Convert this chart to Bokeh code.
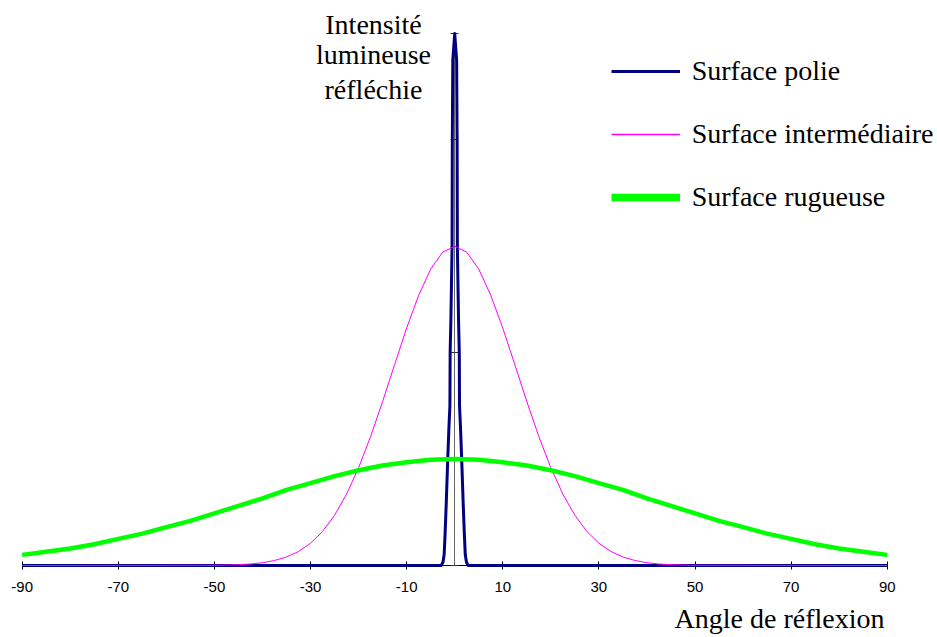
import numpy as np
from bokeh.plotting import figure
from bokeh.models import (Range1d, LinearAxis, FixedTicker, Legend, LegendItem, Label)
from bokeh.core.properties import value
from bokeh.embed import file_html
from bokeh.resources import INLINE

# ---------------- data ----------------
angles_polie = [-90, -2.8, -2.45, -2.2, -2.0, -1.75, -1.45, -1.2, -1.0, -0.95, -0.8, -0.55, -0.5, -0.4, 0,
                0.4, 0.5, 0.55, 0.8, 0.95, 1.0, 1.2, 1.45, 1.75, 2.0, 2.2, 2.45, 2.8, 90]
intens_polie = [0, 0, 0.03, 0.1, 0.3, 0.6, 1.0, 1.3, 1.5, 2.0, 2.3, 3.0, 4.0, 4.75, 5.0,
                4.75, 4.0, 3.0, 2.3, 2.0, 1.5, 1.3, 1.0, 0.6, 0.3, 0.1, 0.03, 0, 0]

angles_inter = [-90, -50, -47.5, -45, -42.5, -40, -37.5, -35, -32.5, -30, -27.5, -25, -22.5, -20,
                -17.5, -15, -12.5, -10, -7.5, -5, -2.5, 0, 2.5, 5, 7.5, 10, 12.5, 15, 17.5, 20,
                22.5, 25, 27.5, 30, 32.5, 35, 37.5, 40, 42.5, 45, 47.5, 50, 90]
intens_inter = [0, 0.002, 0.004, 0.008, 0.014, 0.026, 0.047, 0.08, 0.132, 0.209, 0.32, 0.472, 0.671, 0.919,
                1.212, 1.542, 1.889, 2.232, 2.54, 2.786, 2.945, 3.0, 2.945, 2.786, 2.54, 2.232, 1.889, 1.542,
                1.212, 0.919, 0.671, 0.472, 0.32, 0.209, 0.132, 0.08, 0.047, 0.026, 0.014, 0.008, 0.004,
                0.002, 0]

angles_rug = [-90, -85, -80, -75, -70, -65, -60, -55, -50, -45, -40, -35, -30, -25, -20, -15, -10, -5, 0,
              5, 10, 15, 20, 25, 30, 35, 40, 45, 50, 55, 60, 65, 70, 75, 80, 85, 90]
intens_rug = [0.10, 0.13, 0.16, 0.20, 0.25, 0.30, 0.36, 0.42, 0.49, 0.56, 0.63, 0.71, 0.775, 0.84, 0.895,
              0.94, 0.97, 0.993, 1.0, 0.993, 0.97, 0.94, 0.895, 0.84, 0.775, 0.71, 0.63, 0.56, 0.49, 0.42,
              0.36, 0.30, 0.25, 0.20, 0.16, 0.13, 0.10]

x_ticks = [-90, -70, -50, -30, -10, 10, 30, 50, 70, 90]
x_tick_labels = ["-90", "-70", "-50", "-30", "-10", "10", "30", "50", "70", "90"]
y_ticks = [0, 1, 2, 3, 4, 5]

series_names = ["Surface polie", "Surface intermédiaire", "Surface rugueuse"]
y_title_lines = ["Intensité", "lumineuse", "réfléchie"]
x_title = "Angle de réflexion"

# ---------------- figure ----------------
SERIF = "Liberation Serif"
SANS = "Liberation Sans"

p = figure(width=937, height=637,
           x_range=Range1d(-94.516, 100.46), y_range=Range1d(-0.6767, 5.3102),
           x_axis_type=None, y_axis_type=None,
           output_backend="svg", toolbar_location=None,
           min_border=0, outline_line_color=None)
p.background_fill_color = "white"
p.border_fill_color = "white"

# axes through the origin
xaxis = LinearAxis(fixed_location=0, ticker=FixedTicker(ticks=x_ticks), bounds=(-90, 90))
xaxis.major_label_overrides = {t: lab for t, lab in zip(x_ticks, x_tick_labels)}
xaxis.axis_line_color = "black"
xaxis.major_tick_line_color = "black"
xaxis.major_tick_in = 4
xaxis.major_tick_out = 4
xaxis.minor_tick_line_color = None
xaxis.major_label_standoff = 13
xaxis.major_label_text_font = SANS
xaxis.major_label_text_font_size = "15px"
xaxis.major_label_text_color = "black"
xaxis.level = "underlay"
p.add_layout(xaxis, "below")

yaxis = LinearAxis(fixed_location=0, ticker=FixedTicker(ticks=y_ticks), bounds=(0, 5))
yaxis.major_label_overrides = {t: "" for t in y_ticks}
yaxis.axis_line_color = "#666666"
yaxis.major_tick_line_color = "#333333"
yaxis.major_tick_in = 4
yaxis.major_tick_out = 4
yaxis.minor_tick_line_color = None
yaxis.major_label_text_font_size = "1px"
yaxis.level = "underlay"
p.add_layout(yaxis, "left")

# curves
r_polie = p.line(angles_polie, intens_polie, line_color="#000080", line_width=3, line_join="round")
r_inter = p.line(angles_inter, intens_inter, line_color="#FF00FF", line_width=1)
r_rug = p.line(angles_rug, intens_rug, line_color="#00FF00", line_width=4.5)

# legend samples (proxies with no visible points, drawn only in the legend)
nan1 = np.array([np.nan])
l_polie = p.line(nan1, nan1, line_color="#000080", line_width=3.2)
l_inter = p.line(nan1, nan1, line_color="#FF00FF", line_width=1.4)
l_rug = p.line(nan1, nan1, line_color="#00FF00", line_width=7.5)

legend = Legend(items=[LegendItem(label=series_names[0], renderers=[l_polie]),
                       LegendItem(label=series_names[1], renderers=[l_inter]),
                       LegendItem(label=series_names[2], renderers=[l_rug])],
                location=(610.7, 424.5), orientation="vertical",
                glyph_width=69, glyph_height=30, label_height=30,
                spacing=31, label_standoff=12, padding=0, margin=0,
                border_line_color=None, background_fill_alpha=0,
                label_text_font=SERIF, label_text_font_size="28px",
                label_text_color="black")
p.add_layout(legend, "center")

# y-axis title (three lines)
p.text(x=[-16.9, -16.9, -16.9], y=[5.087, 4.798, 4.474], text=y_title_lines,
       text_font=value(SERIF), text_font_size="28px", text_align="center",
       text_baseline="alphabetic", text_color="black")

# x-axis title
p.add_layout(Label(x=89.44, y=-0.50, text=x_title, text_font=SERIF, text_font_size="28px",
                   text_align="right", text_baseline="alphabetic", text_color="black"))

open("out.html", "w").write(file_html(p, INLINE))
